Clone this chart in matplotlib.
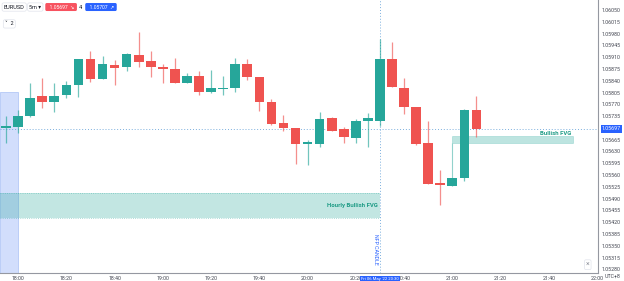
import matplotlib.pyplot as plt
from matplotlib.patches import Rectangle

# 5m EURUSD candles, 17:55 -> 21:10
candle_times = ['17:55', '18:00', '18:05', '18:10', '18:15', '18:20', '18:25', '18:30',
                '18:35', '18:40', '18:45', '18:50', '18:55', '19:00', '19:05', '19:10',
                '19:15', '19:20', '19:25', '19:30', '19:35', '19:40', '19:45', '19:50',
                '19:55', '20:00', '20:05', '20:10', '20:15', '20:20', '20:25', '20:30',
                '20:35', '20:40', '20:45', '20:50', '20:55', '21:00', '21:05', '21:10']
opens = [1.05700, 1.05703, 1.05735, 1.05795, 1.05777, 1.05798, 1.05827, 1.05904,
         1.05845, 1.05887, 1.05881, 1.05916, 1.05899, 1.05881, 1.05875, 1.05833,
         1.05854, 1.05806, 1.05815, 1.05818, 1.05890, 1.05851, 1.05777, 1.05714,
         1.05700, 1.05652, 1.05652, 1.05729, 1.05697, 1.05670, 1.05720, 1.05720,
         1.05904, 1.05818, 1.05762, 1.05655, 1.05533, 1.05527, 1.05551, 1.05753]
highs = [1.05735, 1.05753, 1.05833, 1.05848, 1.05833, 1.05839, 1.05904, 1.05928,
         1.05913, 1.05901, 1.05922, 1.05985, 1.05928, 1.05890, 1.05907, 1.05863,
         1.05869, 1.05872, 1.05854, 1.05907, 1.05904, 1.05851, 1.05786, 1.05738,
         1.05700, 1.05664, 1.05747, 1.05732, 1.05703, 1.05726, 1.05744, 1.05964,
         1.05955, 1.05848, 1.05762, 1.05720, 1.05575, 1.05551, 1.05756, 1.05795]
lows = [1.05655, 1.05685, 1.05732, 1.05759, 1.05747, 1.05789, 1.05792, 1.05836,
        1.05845, 1.05827, 1.05869, 1.05881, 1.05851, 1.05833, 1.05833, 1.05833,
        1.05798, 1.05803, 1.05798, 1.05806, 1.05842, 1.05750, 1.05708, 1.05691,
        1.05593, 1.05590, 1.05643, 1.05691, 1.05655, 1.05655, 1.05643, 1.05705,
        1.05821, 1.05741, 1.05649, 1.05533, 1.05471, 1.05527, 1.05542, 1.05673]
closes = [1.05703, 1.05735, 1.05789, 1.05777, 1.05795, 1.05827, 1.05904, 1.05845,
          1.05890, 1.05878, 1.05919, 1.05896, 1.05881, 1.05875, 1.05833, 1.05854,
          1.05806, 1.05818, 1.05816, 1.05890, 1.05851, 1.05777, 1.05711, 1.05700,
          1.05652, 1.05658, 1.05726, 1.05691, 1.05673, 1.05720, 1.05729, 1.05904,
          1.05821, 1.05762, 1.05652, 1.05533, 1.05531, 1.05551, 1.05753, 1.05697]

price_ticks = ['1.05280', '1.05315', '1.05350', '1.05385', '1.05420', '1.05455',
               '1.05490', '1.05525', '1.05560', '1.05595', '1.05630', '1.05665',
               '1.05735', '1.05770', '1.05805', '1.05840', '1.05875', '1.05910',
               '1.05945', '1.05980', '1.06015', '1.06050']
time_ticks = ['18:00', '18:20', '18:40', '19:00', '19:20', '19:40', '20:00',
              '20:20', '20:40', '21:00', '21:20', '21:40', '22:00']

last_price = 1.05697
ask_price = 1.05707
nfp_time = '20:30'
hourly_fvg = (1.05432, 1.05507)          # low, high
hourly_fvg_end = '20:30'
bullish_fvg = (1.05655, 1.05676)
bullish_fvg_span = ('21:00', '21:50')
bullish_fvg_stem_low = 1.05551
highlight_end = '18:00'
highlight_top = 1.05806

UP = '#26a69a'
DOWN = '#ef5350'
BLUE = '#2962ff'
plt.rcParams['font.family'] = ['Roboto', 'DejaVu Sans']


def to_min(s):
    h, m = s.split(':')
    return (int(h) - 18) * 60 + int(m)


fig = plt.figure(figsize=(6.24, 2.81), dpi=100)
ax = fig.add_axes([0, 0.0285, 0.958, 0.9715])
ax.set_xlim(-7.5, 240.3)
ax.set_ylim(1.05269, 1.06080)

# shaded areas
y0, y1 = ax.get_ylim()
ax.add_patch(Rectangle((-7.5, y0), to_min(highlight_end) + 7.5, highlight_top - y0,
                       facecolor='#d2defc', edgecolor='#b4c8f7', lw=0.6, zorder=1))
ax.add_patch(Rectangle((-7.5, hourly_fvg[0]), to_min(hourly_fvg_end) + 7.5,
                       hourly_fvg[1] - hourly_fvg[0], facecolor=UP, alpha=0.28,
                       edgecolor='none', zorder=1.5))
ax.hlines(hourly_fvg, -7.5, to_min(hourly_fvg_end), colors=UP, lw=0.6, alpha=0.5,
          linestyles=':', zorder=1.6)
ax.text(to_min(hourly_fvg_end) - 1, sum(hourly_fvg) / 2, 'Hourly Bullish FVG',
        color='#1f9c86', fontsize=4.3, fontweight='bold', ha='right', va='center', zorder=5)

bx0, bx1 = to_min(bullish_fvg_span[0]), to_min(bullish_fvg_span[1])
ax.add_patch(Rectangle((bx0, bullish_fvg[0]), bx1 - bx0, bullish_fvg[1] - bullish_fvg[0],
                       facecolor=UP, alpha=0.3, edgecolor=UP, lw=0.5, zorder=1.5))
ax.vlines(bx0, bullish_fvg_stem_low, bullish_fvg[0], colors=UP, lw=0.8, alpha=0.5, zorder=1.5)
ax.text(bx1 - 0.5, bullish_fvg[1] - 0.00001, 'Bullish FVG', color='#1f9c86', fontsize=4.3,
        fontweight='bold', ha='right', va='bottom', zorder=5)

# candles
for t, o, h, l, c in zip(candle_times, opens, highs, lows, closes):
    x = to_min(t)
    col = UP if c >= o else DOWN
    ax.vlines(x, l, h, colors=col, lw=0.9, alpha=0.65, zorder=3)
    body = max(abs(c - o), 0.00005)
    ax.bar(x, body, bottom=min(o, c), width=4.0, color=col, zorder=4)

# price line and crosshair
ax.axhline(last_price, color='#5b9bd5', lw=0.7, ls=(0, (1, 2)), alpha=0.8, zorder=2)
ax.axvline(to_min(nfp_time), color='#5b9bd5', lw=0.7, ls=(0, (1, 2)), alpha=0.8, zorder=2)
ax.text(to_min(nfp_time) - 1.8, 1.05340, 'NFP CANDLE', color=BLUE, fontsize=3.8,
        rotation=-90, ha='center', va='center', zorder=5)

# axes styling
for side in ['top', 'left']:
    ax.spines[side].set_visible(False)
ax.spines['right'].set_color('#9598a1')
ax.spines['bottom'].set_color('#9598a1')
ax.spines['right'].set_linewidth(0.8)
ax.spines['bottom'].set_linewidth(0.8)
ax.yaxis.tick_right()
ax.set_yticks([float(p) for p in price_ticks])
ax.set_yticklabels(price_ticks)
ax.set_xticks([to_min(t) for t in time_ticks])
ax.set_xticklabels(time_ticks)
ax.tick_params(axis='both', length=0, labelsize=3.8, colors='#434651')
ax.tick_params(axis='y', pad=3)
ax.tick_params(axis='x', pad=2)

ax.annotate(f'{last_price:.5f}', xy=(1.0, last_price), xycoords=('axes fraction', 'data'),
            xytext=(3, 0), textcoords='offset points', color='white', fontsize=3.8,
            va='center', ha='left', annotation_clip=False,
            bbox=dict(boxstyle='square,pad=0.25', fc=BLUE, ec='none'))
ax.annotate("Fri 06 May '22 20:30", xy=(to_min(nfp_time), 0), xycoords=('data', 'axes fraction'),
            xytext=(0, -4.3), textcoords='offset points', color='white', fontsize=3.1,
            va='center', ha='center', annotation_clip=False, zorder=10,
            bbox=dict(boxstyle='square,pad=0.3', fc=BLUE, ec='none'))
fig.text(0.982, 0.018, 'UTC+8', fontsize=3.8, color='#434651', ha='center', va='center')
fig.text(0.942, 0.058, '\u00d7', fontsize=5, color='#9598a1', ha='center', va='center',
         bbox=dict(boxstyle='round,pad=0.2', fc='white', ec='#e0e3eb', lw=0.5))

# toolbar
fig.text(0.006, 0.975, 'EURUSD', fontsize=4, color='#131722', va='center',
         bbox=dict(boxstyle='round,pad=0.3', fc='white', ec='#e0e3eb', lw=0.5))
fig.text(0.047, 0.975, '5m \u25be', fontsize=4, color='#131722', va='center',
         bbox=dict(boxstyle='round,pad=0.3', fc='white', ec='#e0e3eb', lw=0.5))
fig.text(0.075, 0.975, f'  {last_price:.5f}  \u2198 ', fontsize=3.6, color='white', va='center',
         bbox=dict(boxstyle='round,pad=0.3', fc='#f7525f', ec='none'))
fig.text(0.127, 0.975, '4', fontsize=4, color='#131722', va='center')
fig.text(0.139, 0.975, f'  {ask_price:.5f}  \u2197 ', fontsize=3.6, color='white', va='center',
         bbox=dict(boxstyle='round,pad=0.3', fc=BLUE, ec='none'))
fig.text(0.008, 0.915, '\u02c5  2', fontsize=4, color='#131722', va='center',
         bbox=dict(boxstyle='round,pad=0.3', fc='white', ec='#e0e3eb', lw=0.5))

fig.savefig('out.png', dpi=100)
